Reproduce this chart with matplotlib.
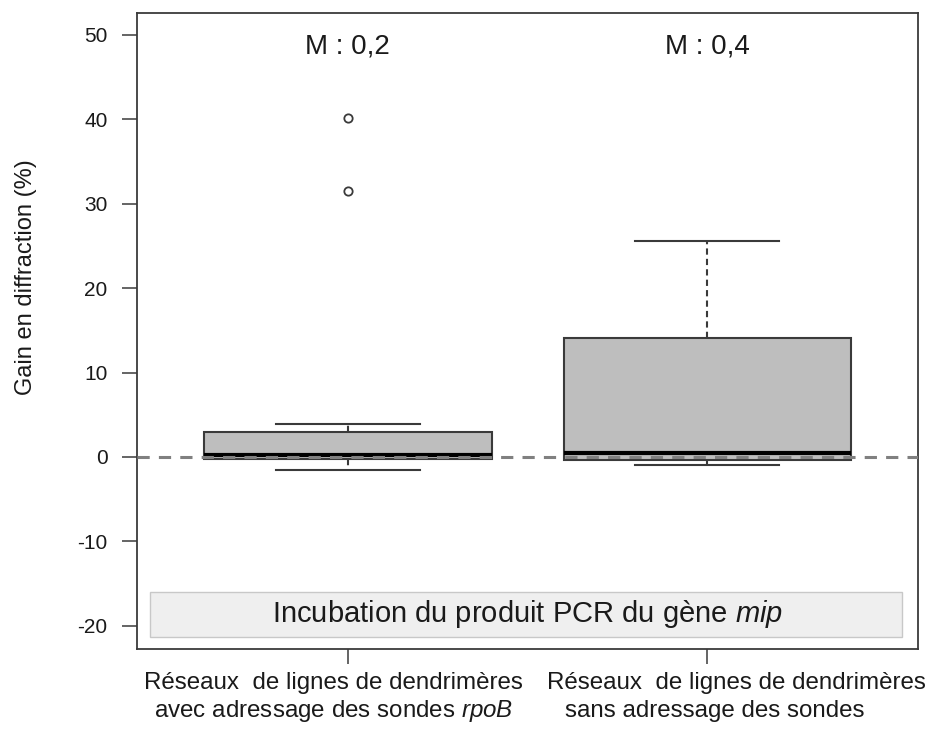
import matplotlib
matplotlib.use("Agg")
import matplotlib.pyplot as plt
from matplotlib.patches import Rectangle

# Valeurs
groupes = ["avec", "sans"]
medianes = [0.2, 0.5]
q1 = [-0.25, -0.4]
q3 = [2.95, 14.1]
moust_bas = [-1.5, -1.0]
moust_haut = [3.95, 25.6]
atypiques = [[31.5, 40.2], []]
etiquettes_m = ["M : 0,2", "M : 0,4"]
ligne1 = ["Réseaux  de lignes de dendrimères", "Réseaux  de lignes de dendrimères"]
ligne2 = ["avec adressage des sondes $\\it{rpoB}$", "sans adressage des sondes"]
yticks = [-20, -10, 0, 10, 20, 30, 40, 50]

plt.rcParams["font.family"] = ["Liberation Sans", "DejaVu Sans"]
plt.rcParams["mathtext.fontset"] = "custom"
plt.rcParams["mathtext.rm"] = "Liberation Sans"
plt.rcParams["mathtext.it"] = "Liberation Sans:italic"

fig = plt.figure(figsize=(9.41, 7.29), dpi=100)
ax = fig.add_axes([0.1453, 0.1097, 0.8302, 0.8729])

stats = []
for i in range(len(groupes)):
    stats.append({
        "med": medianes[i], "q1": q1[i], "q3": q3[i],
        "whislo": moust_bas[i], "whishi": moust_haut[i],
        "fliers": atypiques[i],
    })

positions = [1, 2]
ax.bxp(stats, positions=positions, widths=0.8, capwidths=0.4,
       patch_artist=True, showfliers=True,
       boxprops=dict(facecolor="#bebebe", edgecolor="#3a3a3a", linewidth=1.5),
       medianprops=dict(color="black", linewidth=3),
       whiskerprops=dict(color="#3a3a3a", linewidth=1.5, linestyle=(0, (3, 2))),
       capprops=dict(color="#3a3a3a", linewidth=1.5),
       flierprops=dict(marker="o", markerfacecolor="white",
                       markeredgecolor="#3a3a3a", markersize=6,
                       markeredgewidth=1.3))

ax.axhline(0, color="#808080", linestyle=(0, (4, 3)), linewidth=2.2, zorder=5)

ax.set_xlim(0.414, 2.585)
ax.set_ylim(-22.76, 52.64)

# encadré du bas
ax.add_patch(Rectangle((0.452, -21.33), 2.54 - 0.452, 5.33,
                       facecolor="#efefef", edgecolor="#c8c8c8",
                       linewidth=1, zorder=1))
ax.text(1.499, -18.6, "Incubation du produit PCR du gène $\\it{mip}$",
        ha="center", va="center", fontsize=21, color="#1a1a1a", zorder=2)

for p, t in zip(positions, etiquettes_m):
    ax.text(p, 48.6, t, ha="center", va="center", fontsize=20, color="#1a1a1a")

# étiquettes de l'axe x, écrites ligne par ligne
ax.set_xticks(positions)
ax.set_xticklabels([])
trans = ax.get_xaxis_transform()
decal1 = [-0.04, 0.08]
decal2 = [-0.04, 0.02]
for i, p in enumerate(positions):
    ax.text(p + decal1[i], -0.053, ligne1[i], transform=trans, ha="center",
            va="center", fontsize=17.4, color="#1a1a1a", clip_on=False)
    ax.text(p + decal2[i], -0.097, ligne2[i], transform=trans, ha="center",
            va="center", fontsize=17.4, color="#1a1a1a", clip_on=False)

ax.set_yticks(yticks)
ax.set_yticklabels([str(v) for v in yticks], fontsize=15, color="#1a1a1a")
ax.tick_params(axis="both", length=11, width=1.2, color="#4a4a4a")
ax.tick_params(axis="y", pad=10)
ax.set_ylabel("Gain en diffraction (%)", fontsize=17, color="#1a1a1a")
ax.yaxis.set_label_coords(-0.128, 0.585)

for s in ax.spines.values():
    s.set_color("#3a3a3a")
    s.set_linewidth(1.3)

fig.savefig("out.png", dpi=100)
